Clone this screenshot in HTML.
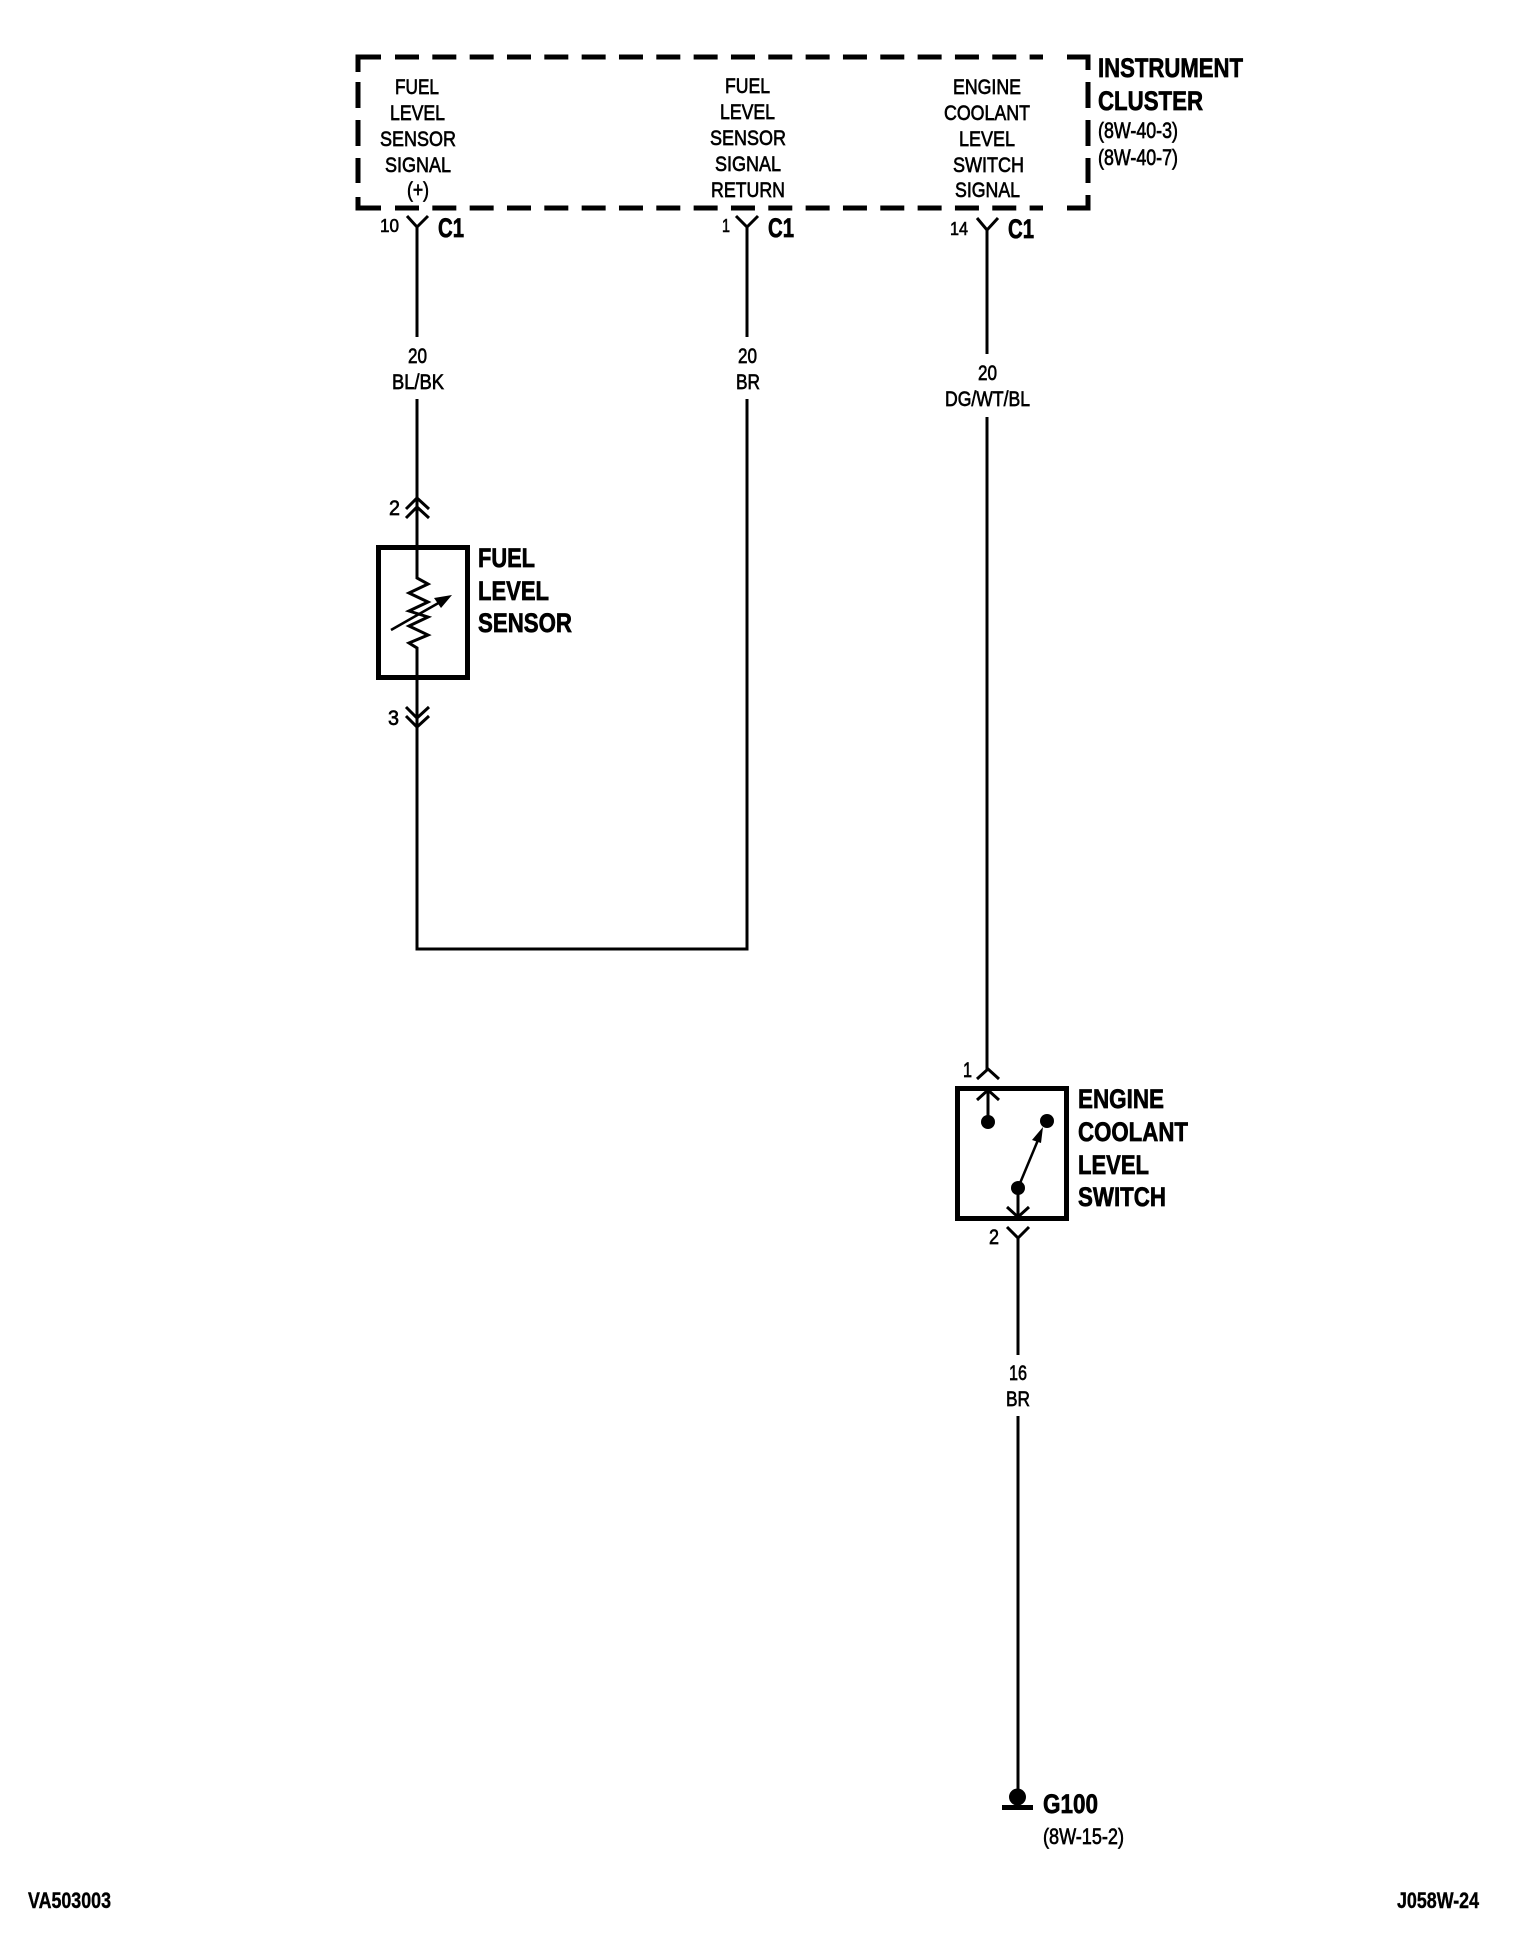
<!DOCTYPE html>
<html>
<head>
<meta charset="utf-8">
<style>
html,body{margin:0;padding:0;background:#fff;width:1520px;height:1946px;overflow:hidden}
svg{display:block}
text{font-family:"Liberation Sans",sans-serif;fill:#000;stroke:#000}
.t{font-size:21px;stroke-width:.65}
.s{font-size:18px;stroke-width:.6}
.m{font-size:22px;stroke-width:.65}
.b{font-size:27px;font-weight:bold;stroke-width:.7}
.f{font-size:22px;font-weight:bold;stroke-width:.4}
.w{fill:none;stroke:#000;stroke-width:3}
.h{fill:none;stroke:#000;stroke-width:5}
</style>
</head>
<body>
<svg xmlns="http://www.w3.org/2000/svg" width="1520" height="1946" viewBox="0 0 1520 1946">
<rect width="1520" height="1946" fill="#fff"/>

<!-- Instrument cluster dashed box -->
<g class="h">
<path class="h" d="M381 57H358V72"/>
<path class="h" d="M358 82V108M358 120V146M358 158V183"/>
<path class="h" d="M358 197V208H381"/>
<path class="h" d="M395 57H1043" stroke-dasharray="24 13.33"/>
<path class="h" d="M395 208H1043" stroke-dasharray="24 13.33"/>
<path class="h" d="M1067 57H1088V70"/>
<path class="h" d="M1088 82V108M1088 120V146M1088 158V183"/>
<path class="h" d="M1088 195V208H1067"/>
</g>

<!-- Column labels -->
<text class="t" x="395" y="94" textLength="44" lengthAdjust="spacingAndGlyphs">FUEL</text>
<text class="t" x="390" y="120" textLength="55" lengthAdjust="spacingAndGlyphs">LEVEL</text>
<text class="t" x="380" y="146" textLength="76" lengthAdjust="spacingAndGlyphs">SENSOR</text>
<text class="t" x="385" y="172" textLength="66" lengthAdjust="spacingAndGlyphs">SIGNAL</text>
<text class="t" x="407" y="197" textLength="22" lengthAdjust="spacingAndGlyphs">(+)</text>

<text class="t" x="725" y="93" textLength="45" lengthAdjust="spacingAndGlyphs">FUEL</text>
<text class="t" x="720" y="119" textLength="55" lengthAdjust="spacingAndGlyphs">LEVEL</text>
<text class="t" x="710" y="145" textLength="76" lengthAdjust="spacingAndGlyphs">SENSOR</text>
<text class="t" x="715" y="171" textLength="66" lengthAdjust="spacingAndGlyphs">SIGNAL</text>
<text class="t" x="711" y="197" textLength="74" lengthAdjust="spacingAndGlyphs">RETURN</text>

<text class="t" x="953" y="94" textLength="68" lengthAdjust="spacingAndGlyphs">ENGINE</text>
<text class="t" x="944" y="120" textLength="86" lengthAdjust="spacingAndGlyphs">COOLANT</text>
<text class="t" x="959" y="146" textLength="56" lengthAdjust="spacingAndGlyphs">LEVEL</text>
<text class="t" x="953" y="172" textLength="71" lengthAdjust="spacingAndGlyphs">SWITCH</text>
<text class="t" x="955" y="197" textLength="65" lengthAdjust="spacingAndGlyphs">SIGNAL</text>

<text class="b" x="1098" y="77" textLength="145" lengthAdjust="spacingAndGlyphs">INSTRUMENT</text>
<text class="b" x="1098" y="110" textLength="105" lengthAdjust="spacingAndGlyphs">CLUSTER</text>
<text class="m" x="1098" y="138" textLength="80" lengthAdjust="spacingAndGlyphs">(8W-40-3)</text>
<text class="m" x="1098" y="165" textLength="80" lengthAdjust="spacingAndGlyphs">(8W-40-7)</text>

<!-- Connectors at cluster -->
<path class="w" d="M407 216L417 227L428 216M417 227V337M417 399V497"/>
<text class="s" x="380" y="232" textLength="19" lengthAdjust="spacingAndGlyphs">10</text>
<text class="b" x="438" y="237" textLength="26" lengthAdjust="spacingAndGlyphs">C1</text>

<path class="w" d="M736 216L747 227L758 216M747 227V337M747 399V949H417V648"/>
<text class="s" x="722" y="232" textLength="8" lengthAdjust="spacingAndGlyphs">1</text>
<text class="b" x="768" y="237" textLength="26" lengthAdjust="spacingAndGlyphs">C1</text>

<path class="w" d="M977 218L987 230L998 218M987 230V354M987 417V1070"/>
<text class="s" x="950" y="235" textLength="18" lengthAdjust="spacingAndGlyphs">14</text>
<text class="b" x="1008" y="238" textLength="26" lengthAdjust="spacingAndGlyphs">C1</text>

<!-- Wire labels -->
<text class="t" x="408" y="363" textLength="19" lengthAdjust="spacingAndGlyphs">20</text>
<text class="t" x="392" y="389" textLength="52" lengthAdjust="spacingAndGlyphs">BL/BK</text>
<text class="t" x="738" y="363" textLength="19" lengthAdjust="spacingAndGlyphs">20</text>
<text class="t" x="736" y="389" textLength="24" lengthAdjust="spacingAndGlyphs">BR</text>
<text class="t" x="978" y="380" textLength="19" lengthAdjust="spacingAndGlyphs">20</text>
<text class="t" x="945" y="406" textLength="85" lengthAdjust="spacingAndGlyphs">DG/WT/BL</text>

<!-- Fuel level sensor -->
<path class="w" d="M406 509L417 498L429 509M406 518L417 507L429 518"/>
<text class="t" x="389" y="515" textLength="11" lengthAdjust="spacingAndGlyphs">2</text>
<rect x="378.5" y="547.500" width="89" height="130" fill="none" stroke="#000" stroke-width="5"/>
<path class="w" d="M417 497V578L428 584L409 593L428 602L409 611L428 617L409 626L428 635L409 643L417 648V745"/>
<path class="w" d="M391 630L442 601" style="stroke-width:2.500"/>
<polygon points="452,595 434,598 441,608" fill="#000"/>
<path class="w" d="M406 707L417 718L429 707M406 716L417 727L429 716"/>
<text class="t" x="388" y="725" textLength="11" lengthAdjust="spacingAndGlyphs">3</text>
<text class="b" x="478" y="567" textLength="57" lengthAdjust="spacingAndGlyphs">FUEL</text>
<text class="b" x="478" y="600" textLength="71" lengthAdjust="spacingAndGlyphs">LEVEL</text>
<text class="b" x="478" y="632" textLength="94" lengthAdjust="spacingAndGlyphs">SENSOR</text>

<!-- Engine coolant level switch -->
<path class="w" d="M977 1079L988 1069L999 1079"/>
<text class="t" x="963" y="1077" textLength="9" lengthAdjust="spacingAndGlyphs">1</text>
<rect x="957.5" y="1088.500" width="109" height="130" fill="none" stroke="#000" stroke-width="5"/>
<path class="w" d="M977 1100L988 1090L999 1100M988 1090V1122"/>
<circle cx="988" cy="1122" r="7" fill="#000"/>
<circle cx="1047" cy="1121" r="7" fill="#000"/>
<circle cx="1018" cy="1188" r="7" fill="#000"/>
<path class="w" d="M1018 1188L1038 1140" style="stroke-width:2.500"/>
<polygon points="1043,1127 1032,1140 1041,1143" fill="#000"/>
<path class="w" d="M1018 1188V1216M1007 1207L1018 1217L1029 1207"/>
<path class="w" d="M1007 1227L1018 1238L1029 1227M1018 1238V1355M1018 1416V1790"/>
<text class="t" x="989" y="1244" textLength="10" lengthAdjust="spacingAndGlyphs">2</text>
<text class="b" x="1078" y="1108" textLength="86" lengthAdjust="spacingAndGlyphs">ENGINE</text>
<text class="b" x="1078" y="1141" textLength="110" lengthAdjust="spacingAndGlyphs">COOLANT</text>
<text class="b" x="1078" y="1174" textLength="71" lengthAdjust="spacingAndGlyphs">LEVEL</text>
<text class="b" x="1078" y="1206" textLength="88" lengthAdjust="spacingAndGlyphs">SWITCH</text>

<text class="t" x="1009" y="1380" textLength="18" lengthAdjust="spacingAndGlyphs">16</text>
<text class="t" x="1006" y="1406" textLength="24" lengthAdjust="spacingAndGlyphs">BR</text>

<!-- Ground -->
<circle cx="1017.500" cy="1797" r="8.500" fill="#000"/>
<rect x="1002" y="1805" width="31" height="5" fill="#000"/>
<text class="b" x="1043" y="1813" textLength="55" lengthAdjust="spacingAndGlyphs">G100</text>
<text class="m" x="1043" y="1844" textLength="81" lengthAdjust="spacingAndGlyphs">(8W-15-2)</text>

<!-- Footer -->
<text class="f" x="28" y="1908" textLength="83" lengthAdjust="spacingAndGlyphs">VA503003</text>
<text class="f" x="1397" y="1908" textLength="82" lengthAdjust="spacingAndGlyphs">J058W-24</text>
</svg>
</body>
</html>
